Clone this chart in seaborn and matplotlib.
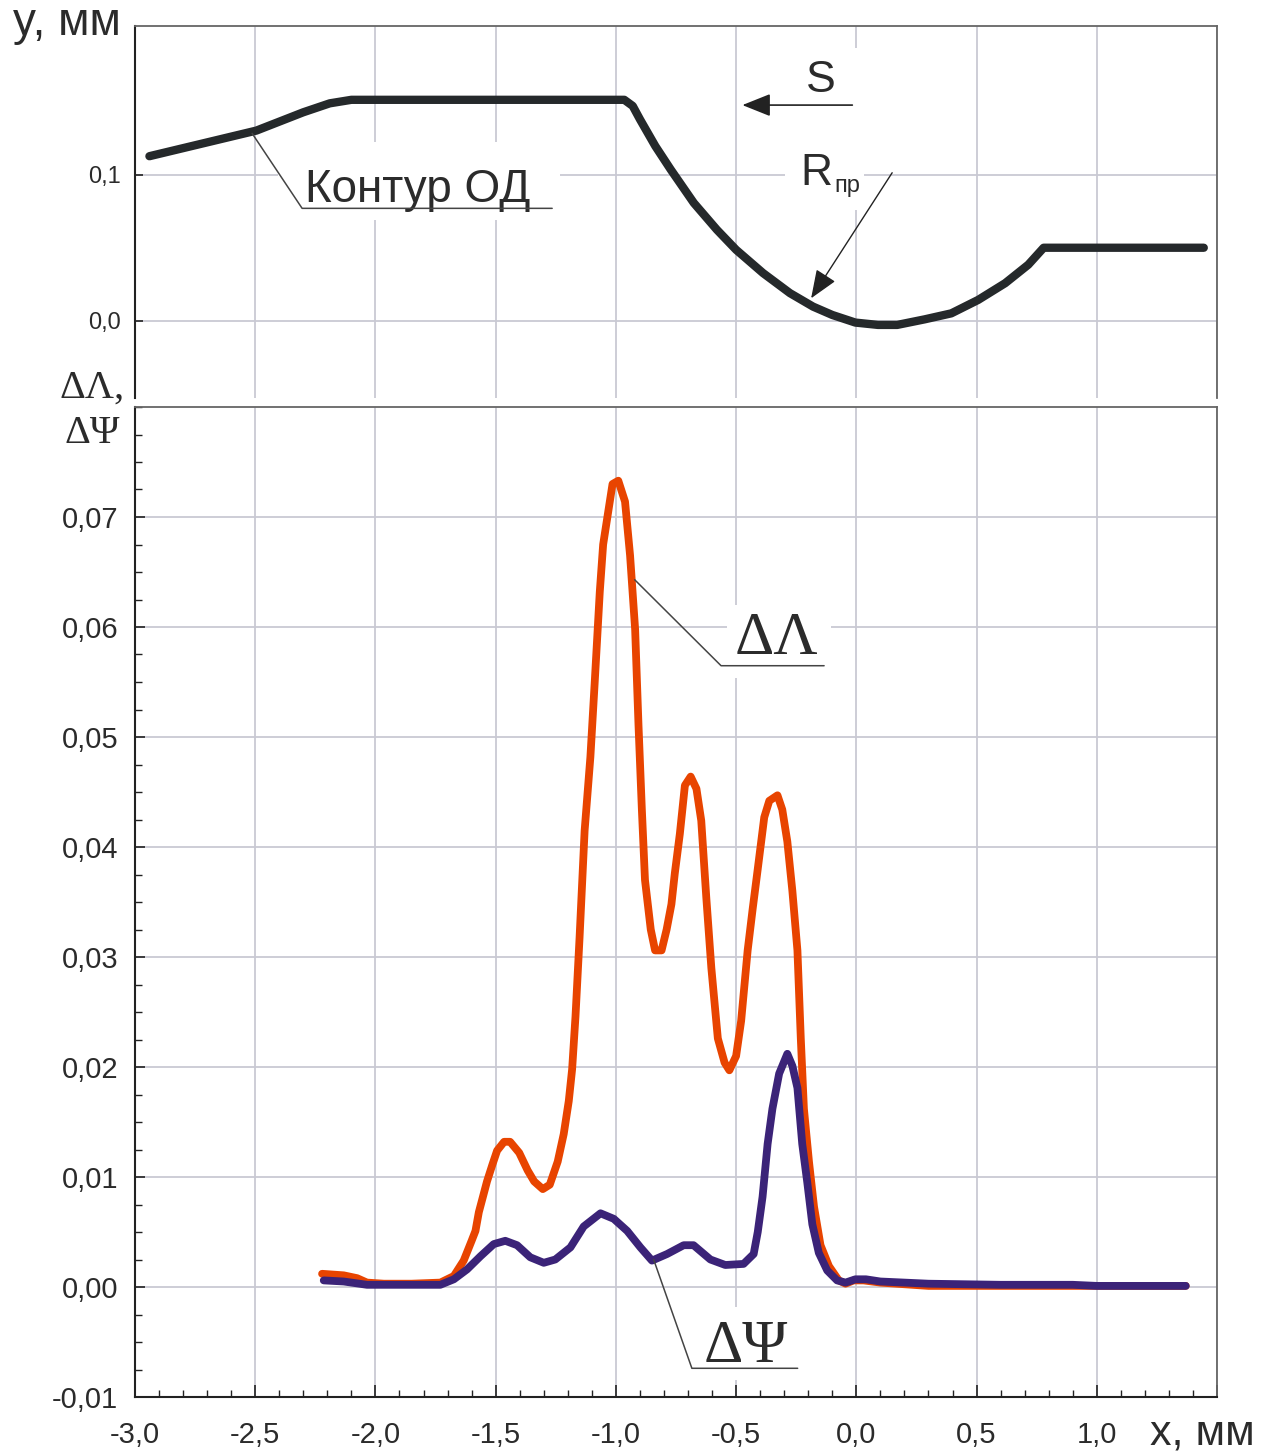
import numpy as np
import pandas as pd
import matplotlib
matplotlib.use("Agg")
import matplotlib.pyplot as plt
import seaborn as sns
from matplotlib import font_manager
from matplotlib.patches import Rectangle
from matplotlib.ticker import MultipleLocator

# ---------------- data ----------------
x_contour = [-2.94, -2.495, -2.30, -2.19, -2.10, -0.965, -0.93, -0.90, -0.836, -0.772,
             -0.676, -0.58, -0.50, -0.388, -0.276, -0.18, -0.10, -0.004, 0.09, 0.17,
             0.284, 0.395, 0.507, 0.619, 0.715, 0.779, 1.445]
y_contour = [0.1125, 0.1300, 0.1425, 0.1486, 0.151, 0.151, 0.1468, 0.1377, 0.1194, 0.1034,
             0.0806, 0.0623, 0.0486, 0.0327, 0.0190, 0.0098, 0.0041, -0.0011, -0.0027, -0.0027,
             0.0011, 0.0052, 0.0144, 0.0258, 0.0384, 0.0500, 0.0500]

x_dlambda = [-2.222, -2.132, -2.076, -2.035, -1.965, -1.85, -1.73, -1.674, -1.633, -1.600,
             -1.584, -1.57, -1.536, -1.514, -1.494, -1.465, -1.44, -1.402, -1.367, -1.34,
             -1.304, -1.275, -1.242, -1.217, -1.196, -1.182, -1.168, -1.151, -1.13, -1.106,
             -1.088, -1.067, -1.053, -1.014, -0.99, -0.962, -0.941, -0.92, -0.906, -0.892,
             -0.879, -0.855, -0.837, -0.81, -0.789, -0.769, -0.755, -0.734, -0.713, -0.689,
             -0.665, -0.645, -0.624, -0.603, -0.576, -0.548, -0.528, -0.50, -0.479, -0.452,
             -0.431, -0.41, -0.383, -0.362, -0.328, -0.308, -0.287, -0.266, -0.245, -0.231,
             -0.218, -0.197, -0.176, -0.149, -0.114, -0.073, -0.045, -0.011, 0.03, 0.10,
             0.30, 0.60, 1.00, 1.37]
y_dlambda = [0.0012, 0.00106, 0.0008, 0.0004, 0.0003, 0.0003, 0.0004, 0.0010, 0.0024, 0.0042,
             0.0051, 0.0068, 0.0096, 0.0111, 0.0124, 0.0132, 0.0132, 0.0122, 0.0106, 0.0096,
             0.0089, 0.0093, 0.0114, 0.0139, 0.0169, 0.0198, 0.0246, 0.0318, 0.0415, 0.0482,
             0.0550, 0.0632, 0.0675, 0.0730, 0.0733, 0.0714, 0.0665, 0.0598, 0.0511, 0.0434,
             0.0370, 0.0325, 0.0306, 0.0306, 0.0325, 0.0348, 0.0376, 0.0412, 0.0456, 0.0464,
             0.0453, 0.0424, 0.0354, 0.0290, 0.0226, 0.0204, 0.0197, 0.0210, 0.0242, 0.0306,
             0.0344, 0.0380, 0.0427, 0.0442, 0.0447, 0.0434, 0.0405, 0.0360, 0.0306, 0.0226,
             0.0162, 0.0114, 0.0073, 0.0038, 0.0019, 0.0006, 0.0003, 0.0006, 0.0006, 0.0004,
             0.0001, 0.0001, 0.0001, 0.0001]

x_dpsi = [-2.215, -2.132, -2.035, -1.90, -1.73, -1.674, -1.619, -1.563, -1.508, -1.46,
          -1.411, -1.356, -1.30, -1.252, -1.189, -1.134, -1.064, -1.009, -0.953, -0.898,
          -0.85, -0.787, -0.718, -0.677, -0.607, -0.545, -0.469, -0.427, -0.41, -0.39,
          -0.369, -0.349, -0.321, -0.287, -0.266, -0.245, -0.225, -0.204, -0.183, -0.156,
          -0.121, -0.08, -0.045, -0.004, 0.04, 0.10, 0.30, 0.60, 0.90, 1.00, 1.37]
y_dpsi = [0.0006, 0.0005, 0.0002, 0.0002, 0.0002, 0.0007, 0.0016, 0.0028, 0.0039, 0.0042,
          0.0038, 0.0027, 0.0022, 0.0025, 0.0036, 0.0055, 0.0067, 0.0062, 0.0051, 0.0036,
          0.0024, 0.0030, 0.0038, 0.0038, 0.0025, 0.0020, 0.0021, 0.0030, 0.0050, 0.0082,
          0.0130, 0.0162, 0.0194, 0.0212, 0.0201, 0.0181, 0.0130, 0.0095, 0.0057, 0.0031,
          0.0015, 0.0006, 0.0004, 0.0007, 0.0007, 0.0005, 0.0003, 0.0002, 0.0002, 0.0001, 0.0001]

x_ticks = [-3.0, -2.5, -2.0, -1.5, -1.0, -0.5, 0.0, 0.5, 1.0, 1.5]
x_tick_labels = ['-3,0', '-2,5', '-2,0', '-1,5', '-1,0', '-0,5', '0,0', '0,5', '1,0', '']
y_bot_ticks = [-0.01, 0.0, 0.01, 0.02, 0.03, 0.04, 0.05, 0.06, 0.07]
y_bot_labels = ['-0,01', '0,00', '0,01', '0,02', '0,03', '0,04', '0,05', '0,06', '0,07']
y_top_ticks = [0.0, 0.1]
y_top_labels = ['0,0', '0,1']

# ---------------- style ----------------
names = {f.name for f in font_manager.fontManager.ttflist}
HAS_NARROW = 'Liberation Sans Narrow' in names
NARROW = 'Liberation Sans Narrow' if HAS_NARROW else 'Liberation Sans'

sns.set_theme(style='white')
plt.rcParams['font.family'] = [NARROW, 'DejaVu Sans']
SERIF = ['Liberation Serif', 'DejaVu Serif']
SANS = ['Liberation Sans', 'DejaVu Sans']

TXT = '#2b2b2b'
GRID = '#c9c9d3'
ORANGE = '#e84400'
PURPLE = '#3b2378'
BLACK = '#25292b'

W, H = 1276, 1453
fig = plt.figure(figsize=(W / 100, H / 100), dpi=100)
ax_top = fig.add_axes([135 / W, 1 - 398 / H, 1082 / W, (398 - 26) / H])
ax_bot = fig.add_axes([135 / W, 1 - 1397 / H, 1082 / W, (1397 - 407) / H])

fs_ybot = 24 if HAS_NARROW else 21
fs_x = 23 if HAS_NARROW else 21
fs_ytop = 19 if HAS_NARROW else 17
fs_contour = 40 if HAS_NARROW else 33

# ---------------- top panel ----------------
df_contour = pd.DataFrame({'x': x_contour, 'y': y_contour})
sns.lineplot(data=df_contour, x='x', y='y', ax=ax_top, color=BLACK, lw=6.0,
             sort=False, estimator=None, zorder=3)
ax_top.set_xlim(-3.0, 1.5)
ax_top.set_ylim(-0.0526, 0.2014)
ax_top.set_xticks(x_ticks)
ax_top.set_xticklabels([])
ax_top.set_yticks(y_top_ticks)
ax_top.set_yticklabels(y_top_labels, fontsize=fs_ytop, color=TXT)
ax_top.tick_params(axis='x', length=0)
ax_top.tick_params(axis='y', direction='in', length=6, width=1.2, color='#222', pad=10, left=True)
ax_top.set_axisbelow(True)
ax_top.grid(True, color=GRID, lw=1.3)
ax_top.set_xlabel('')
ax_top.set_ylabel('')
ax_top.spines['bottom'].set_visible(False)
ax_top.spines['left'].set_color('#222')
ax_top.spines['left'].set_linewidth(1.5)
for s in ('top', 'right'):
    ax_top.spines[s].set_color('#666')
    ax_top.spines[s].set_linewidth(1.3)

# white boxes behind labels (cover the grid)
for (x0, x1, y0, y1) in [(-2.407, -1.231, 0.0689, 0.1222),
                         (-0.491, 0.008, 0.1304, 0.1863),
                         (-0.295, 0.033, 0.0758, 0.1304)]:
    ax_top.add_patch(Rectangle((x0, y0), x1 - x0, y1 - y0, facecolor='white',
                               edgecolor='none', zorder=1))

ax_top.text(-1.823, 0.0814, 'Контур ОД', ha='center', va='baseline',
            fontsize=fs_contour, color=TXT, zorder=4)
ax_top.plot([-2.513, -2.305, -1.265], [0.1281, 0.0769, 0.0769], color='#444', lw=1.1, zorder=4)

ax_top.text(-0.1497, 0.1563, 'S', ha='center', va='baseline', fontsize=32,
            family=SANS, color=TXT, zorder=4)
ax_top.annotate('', xy=(-0.474, 0.1474), xytext=(-0.0166, 0.1474),
                arrowprops=dict(arrowstyle='-|>,head_length=0.55,head_width=0.22',
                                color='#222', lw=1.2, mutation_scale=32,
                                shrinkA=0, shrinkB=0), zorder=4)
ax_top.text(-0.233, 0.0928, 'R', ha='left', va='baseline', fontsize=32,
            family=SANS, color=TXT, zorder=4)
ax_top.text(-0.093, 0.0880, 'пр', ha='left', va='baseline', fontsize=17,
            family=SANS, color=TXT, zorder=4)
ax_top.annotate('', xy=(-0.188, 0.0155), xytext=(0.149, 0.1012),
                arrowprops=dict(arrowstyle='-|>,head_length=0.55,head_width=0.22',
                                color='#222', lw=1.0, mutation_scale=32,
                                shrinkA=0, shrinkB=0), zorder=5)

# ---------------- bottom panel ----------------
df_l = pd.DataFrame({'x': x_dlambda, 'y': y_dlambda})
df_p = pd.DataFrame({'x': x_dpsi, 'y': y_dpsi})
sns.lineplot(data=df_l, x='x', y='y', ax=ax_bot, color=ORANGE, lw=5.6,
             sort=False, estimator=None, zorder=3)
sns.lineplot(data=df_p, x='x', y='y', ax=ax_bot, color=PURPLE, lw=5.6,
             sort=False, estimator=None, zorder=4)
ax_bot.set_xlim(-3.0, 1.5)
ax_bot.set_ylim(-0.01, 0.08)
ax_bot.set_xticks(x_ticks)
ax_bot.set_xticklabels(x_tick_labels, fontsize=fs_x, color=TXT)
ax_bot.set_yticks(y_bot_ticks)
ax_bot.set_yticklabels(y_bot_labels, fontsize=fs_ybot, color=TXT)
ax_bot.xaxis.set_minor_locator(MultipleLocator(0.1))
ax_bot.yaxis.set_minor_locator(MultipleLocator(0.0025))
ax_bot.tick_params(axis='x', which='major', direction='in', length=9, width=1.2,
                   color='#222', pad=17, bottom=True)
ax_bot.tick_params(axis='x', which='minor', direction='in', length=5, width=1.0,
                   color='#222', bottom=True)
ax_bot.tick_params(axis='y', which='major', direction='in', length=7, width=1.2,
                   color='#222', pad=12, left=True)
ax_bot.tick_params(axis='y', which='minor', direction='in', length=5, width=1.0,
                   color='#222', left=True)
ax_bot.set_axisbelow(True)
ax_bot.grid(True, which='major', color=GRID, lw=1.3)
ax_bot.set_xlabel('')
ax_bot.set_ylabel('')
for s in ('left', 'bottom'):
    ax_bot.spines[s].set_color('#222')
    ax_bot.spines[s].set_linewidth(1.5)
for s in ('top', 'right'):
    ax_bot.spines[s].set_color('#666')
    ax_bot.spines[s].set_linewidth(1.3)

for (x0, x1, y0, y1) in [(-0.536, -0.104, 0.05536, 0.0620),
                         (-0.649, -0.233, -0.00845, -0.00182)]:
    ax_bot.add_patch(Rectangle((x0, y0), x1 - x0, y1 - y0, facecolor='white',
                               edgecolor='none', zorder=1))

ax_bot.text(-0.3306, 0.05755, 'ΔΛ', ha='center', va='baseline', fontsize=44,
            family=SERIF, color=TXT, zorder=5)
ax_bot.plot([-0.922, -0.5626, -0.134], [0.0643, 0.05648, 0.05648], color='#444', lw=1.1, zorder=5)
ax_bot.text(-0.4615, -0.00682, 'ΔΨ', ha='center', va='baseline', fontsize=44,
            family=SERIF, color=TXT, zorder=5)
ax_bot.plot([-0.843, -0.684, -0.244], [0.0025, -0.00739, -0.00739], color='#444', lw=1.1, zorder=5)

# ---------------- axis titles ----------------
fig.text(13 / W, 1 - 35 / H, 'y, мм', ha='left', va='baseline', fontsize=33,
         family=SANS, color=TXT)
fig.text(1150 / W, 1 - 1444 / H, 'x, мм', ha='left', va='baseline', fontsize=31,
         family=SANS, color=TXT)
fig.text(92.5 / W, 1 - 398 / H, 'ΔΛ,', ha='center', va='baseline', fontsize=29,
         family=SERIF, color=TXT)
fig.text(92.5 / W, 1 - 443 / H, 'ΔΨ', ha='center', va='baseline', fontsize=29,
         family=SERIF, color=TXT)

fig.savefig('out.png', dpi=100, facecolor='white')
